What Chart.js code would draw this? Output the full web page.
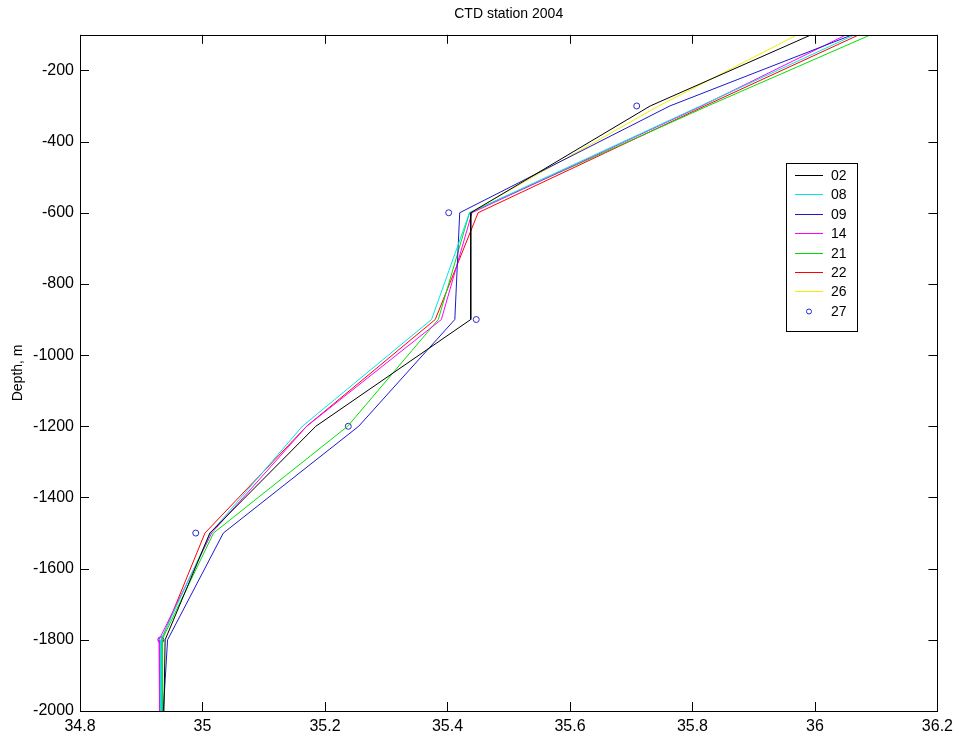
<!DOCTYPE html>
<html>
<head>
<meta charset="utf-8">
<title>CTD station 2004</title>
<script src="https://cdn.jsdelivr.net/npm/chart.js@4.4.1/dist/chart.umd.min.js"></script>
<style>
    html, body { margin: 0; padding: 0; background: #fff; }
    #wrap { width: 959px; height: 736px; }
</style>
</head>
<body>
<div id="wrap"><canvas id="ctd-chart" width="959" height="736"></canvas></div>
<script>
// Sampling depths (m) and salinity per station
const depths = [-100, -300, -600, -900, -1200, -1500, -1800, -2000];
const st02 = [35.994, 35.731, 35.438, 35.438, 35.185, 35.012, 34.939, 34.937];
const st08 = [36.065, 35.813, 35.436, 35.374, 35.163, 35.013, 34.932, 34.932];
const st09 = [36.061, 35.763, 35.420, 35.412, 35.255, 35.034, 34.943, 34.936];
const st14 = [36.051, 35.815, 35.440, 35.390, 35.170, 35.015, 34.929, 34.930];
const st21 = [36.091, 35.825, 35.436, 35.385, 35.237, 35.018, 34.934, 34.934];
const st22 = [36.072, 35.820, 35.450, 35.380, 35.170, 35.004, 34.933, 34.934];
const st26 = [35.971, 35.745, 35.436, null, null, null, null, null];
const st27 = [null, 35.709, 35.402, 35.447, 35.238, 34.989, 34.932, null];

const stationNames = ["02", "08", "09", "14", "21", "22", "26", "27"];
const stationColors = ["#000000", "#00e5e5", "#1a1acc", "#ff00ff", "#00e000", "#ff0000", "#f0f000", "#2a2acc"];

const xTicks = [34.8, 35, 35.2, 35.4, 35.6, 35.8, 36, 36.2];
const yTicks = [-2000, -1800, -1600, -1400, -1200, -1000, -800, -600, -400, -200];

const FONT = "'Liberation Sans', Arial, Helvetica, sans-serif";

// pair salinity values with depths, dropping missing samples
function toPoints(values) {
    const pts = [];
    values.forEach((v, i) => {
        if (v !== null) pts.push({ x: v, y: depths[i] });
    });
    return pts;
}

// center the title over the plot area instead of the whole canvas
const titlePlugin = {
    id: 'titleOverAxes',
    afterLayout(chart) {
        if (chart.titleBlock) {
            chart.titleBlock.left = chart.chartArea.left;
            chart.titleBlock.right = chart.chartArea.right;
        }
    }
};

// box around the axes with inward tick marks on all four sides
const boxPlugin = {
    id: 'box',
    afterDraw(chart) {
        const ctx = chart.ctx;
        const a = chart.chartArea;
        const xs = chart.scales.x;
        const ys = chart.scales.y;
        const len = 9;
        ctx.save();
        ctx.strokeStyle = '#000';
        ctx.lineWidth = 1;
        ctx.beginPath();
        xTicks.forEach(v => {
            const px = Math.round(xs.getPixelForValue(v)) + 0.5;
            ctx.moveTo(px, a.bottom);
            ctx.lineTo(px, a.bottom - len);
            ctx.moveTo(px, a.top);
            ctx.lineTo(px, a.top + len);
        });
        yTicks.forEach(v => {
            const py = Math.round(ys.getPixelForValue(v)) + 0.5;
            ctx.moveTo(a.left, py);
            ctx.lineTo(a.left + len, py);
            ctx.moveTo(a.right, py);
            ctx.lineTo(a.right - len, py);
        });
        ctx.stroke();
        ctx.strokeRect(Math.round(a.left) + 0.5, Math.round(a.top) + 0.5,
            Math.round(a.right - a.left), Math.round(a.bottom - a.top));
        ctx.restore();
    }
};

// boxed legend inside the plot, MATLAB style
const legendPlugin = {
    id: 'boxLegend',
    afterDraw(chart) {
        const ctx = chart.ctx;
        const left = 786, top = 163, w = 71, h = 168;
        const rowH = 19.4;
        ctx.save();
        ctx.fillStyle = '#fff';
        ctx.fillRect(left, top, w, h);
        ctx.strokeStyle = '#000';
        ctx.lineWidth = 1;
        ctx.strokeRect(left + 0.5, top + 0.5, w, h);
        ctx.font = '14px ' + FONT;
        ctx.textBaseline = 'middle';
        chart.data.datasets.forEach((ds, i) => {
            const y = Math.round(top + 12 + i * rowH);
            if (ds.showLine === false) {
                ctx.strokeStyle = ds.borderColor;
                ctx.beginPath();
                ctx.arc(left + 23, y + 0.5, 2.5, 0, Math.PI * 2);
                ctx.stroke();
            } else {
                ctx.fillStyle = ds.borderColor;
                ctx.fillRect(left + 9, y, 28, 1);
            }
            ctx.fillStyle = '#000';
            ctx.fillText(ds.label, left + 45, y + 1);
        });
        ctx.restore();
    }
};

function displayProfiles() {
    const ctx = document.getElementById("ctd-chart").getContext("2d");
    const series = [st02, st08, st09, st14, st21, st22, st26, st27];

    const datasets = series.map((values, i) => {
        const isMarker = stationNames[i] === "27";
        return {
            label: stationNames[i],
            data: toPoints(values),
            borderColor: stationColors[i],
            backgroundColor: 'rgba(0,0,0,0)',
            borderWidth: 1,
            showLine: !isMarker,
            pointRadius: isMarker ? 3 : 0,
            pointStyle: 'circle',
            pointBorderWidth: 1,
            tension: 0
        };
    });

    new Chart(ctx, {
        type: 'scatter',
        data: { datasets: datasets },
        options: {
            responsive: false,
            animation: false,
            layout: { padding: { left: 0, right: 21, top: 0, bottom: 0 } },
            plugins: {
                legend: { display: false },
                tooltip: { enabled: false },
                title: {
                    display: true,
                    text: 'CTD station 2004',
                    color: '#000',
                    font: { family: FONT, size: 14, weight: 'normal' },
                    padding: { top: 6, bottom: 12 }
                }
            },
            scales: {
                x: {
                    type: 'linear',
                    min: 34.8,
                    max: 36.2,
                    grid: { display: false, drawTicks: false, tickLength: 0 },
                    border: { display: false },
                    afterBuildTicks: scale => { scale.ticks = xTicks.map(v => ({ value: v })); },
                    afterFit: scale => { scale.height = 25; },
                    ticks: {
                        color: '#000',
                        padding: 6,
                        maxRotation: 0,
                        autoSkip: false,
                        font: { family: FONT, size: 16 },
                        callback: v => String(Number(v.toFixed(1)))
                    }
                },
                y: {
                    type: 'linear',
                    min: -2000,
                    max: -100,
                    grid: { display: false, drawTicks: false, tickLength: 0 },
                    border: { display: false },
                    afterBuildTicks: scale => { scale.ticks = yTicks.map(v => ({ value: v })); },
                    afterFit: scale => { scale.width = 80; },
                    title: {
                        display: true,
                        text: 'Depth, m',
                        color: '#000',
                        font: { family: FONT, size: 14 },
                        padding: { top: 10, bottom: 0 }
                    },
                    ticks: {
                        color: '#000',
                        padding: 6,
                        autoSkip: false,
                        font: { family: FONT, size: 16 },
                        callback: v => String(v)
                    }
                }
            }
        },
        plugins: [titlePlugin, boxPlugin, legendPlugin]
    });
}

window.addEventListener('load', () => {
    displayProfiles();
});
</script>
</body>
</html>
